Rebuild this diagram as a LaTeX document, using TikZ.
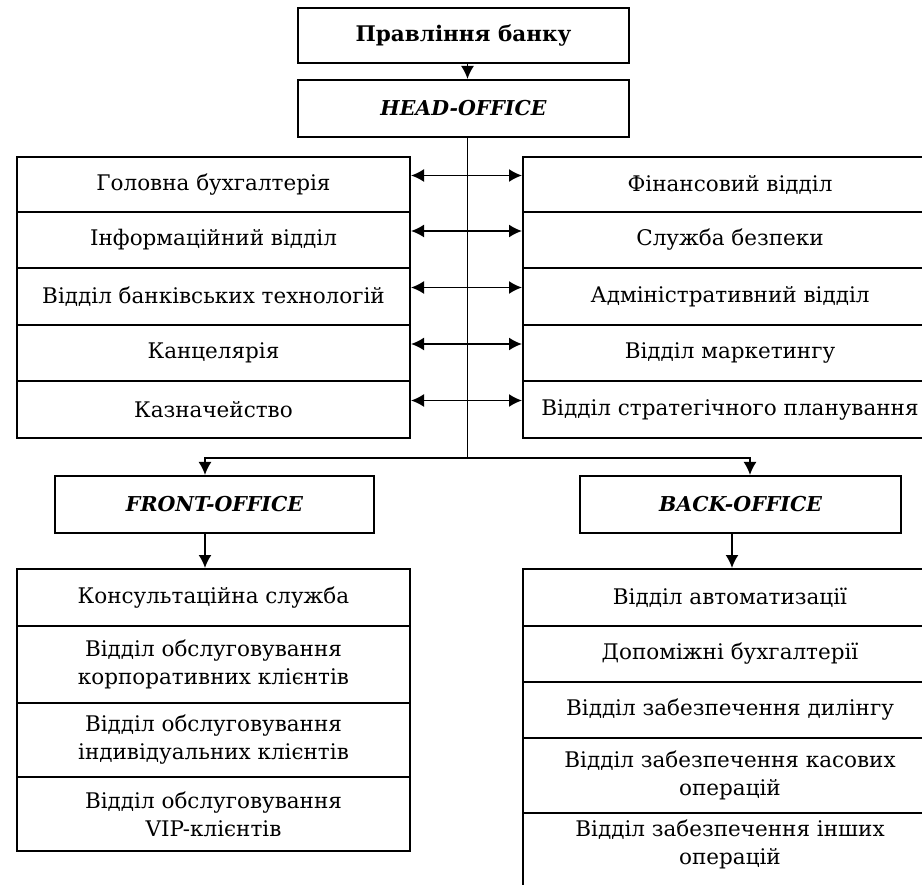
\documentclass[tikz,border=0pt]{standalone}
\usepackage{fontspec}
\setmainfont{DejaVu Serif}
\usetikzlibrary{arrows.meta,calc}
\begin{document}
\begin{tikzpicture}[x=1pt,y=-1pt,
  box/.style={draw, line width=2pt, inner sep=0pt, align=center,
    font=\fontsize{21.5}{28}\selectfont},
  office/.style={box, font=\fontsize{20.5}{28}\selectfont\bfseries\itshape},
  conn/.style={line width=1.8pt},
  arr/.style={line width=1.8pt, -{Latex[length=13pt,width=13pt]}},
  darr/.style={line width=1.8pt, {Latex[length=13pt,width=13pt]}-{Latex[length=13pt,width=13pt]}}]
\clip (0,0) rectangle (922,885);
\fill[white] (0,0) rectangle (922,885);
% top
\node[box, minimum width=331pt, minimum height=55pt, font=\fontsize{21.5}{28}\selectfont\bfseries] (top) at (463.5,35.5) {Правління банку};
\node[office, minimum width=331pt, minimum height=57pt] (head) at (463.5,108.5) {HEAD-OFFICE};
% left stack
\node[box, minimum width=393pt, minimum height=55pt] (L1) at (213.5,184.5) {Головна бухгалтерія};
\node[box, minimum width=393pt, minimum height=56pt] (L2) at (213.5,240) {Інформаційний відділ};
\node[box, minimum width=393pt, minimum height=57pt] (L3) at (213.5,296.5) {Відділ банківських технологій};
\node[box, minimum width=393pt, minimum height=56pt] (L4) at (213.5,353) {Канцелярія};
\node[box, minimum width=393pt, minimum height=57pt] (L5) at (213.5,409.5) {Казначейство};
% right stack
\node[box, minimum width=414pt, minimum height=55pt] (R1) at (730,184.5) {Фінансовий відділ};
\node[box, minimum width=414pt, minimum height=56pt] (R2) at (730,240) {Служба безпеки};
\node[box, minimum width=414pt, minimum height=57pt] (R3) at (730,296.5) {Адміністративний відділ};
\node[box, minimum width=414pt, minimum height=56pt] (R4) at (730,353) {Відділ маркетингу};
\node[box, minimum width=414pt, minimum height=57pt] (R5) at (730,409.5) {Відділ стратегічного планування};
% front / back
\node[office, minimum width=319pt, minimum height=57pt] (front) at (214.5,504.5) {FRONT-OFFICE};
\node[office, minimum width=321pt, minimum height=57pt] (back) at (740.5,504.5) {BACK-OFFICE};
% front stack
\node[box, minimum width=393pt, minimum height=57pt] (F1) at (213.5,597.5) {Консультаційна служба};
\node[box, minimum width=393pt, minimum height=77pt] (F2) at (213.5,664.5) {Відділ обслуговування\\корпоративних клієнтів};
\node[box, minimum width=393pt, minimum height=74pt] (F3) at (213.5,740) {Відділ обслуговування\\індивідуальних клієнтів};
\node[box, minimum width=393pt, minimum height=74pt] (F4) at (213.5,814) {Відділ обслуговування\\VIP-клієнтів};
% back stack
\node[box, minimum width=414pt, minimum height=57pt] (B1) at (730,597.5) {Відділ автоматизації};
\node[box, minimum width=414pt, minimum height=56pt] (B2) at (730,654) {Допоміжні бухгалтерії};
\node[box, minimum width=414pt, minimum height=56pt] (B3) at (730,710) {Відділ забезпечення дилінгу};
\node[box, minimum width=414pt, minimum height=75pt] (B4) at (730,775.5) {Відділ забезпечення касових\\операцій};
\node[box, minimum width=414pt, minimum height=82pt, text depth=23pt] (B5) at (730,854) {Відділ забезпечення інших\\операцій};
% connectors
\draw[arr] ([xshift=4pt]top.south) -- ([xshift=4pt]head.north);
\coordinate (j) at (467.5,458);
\draw[conn] ([xshift=4pt]head.south) -- (j);
\draw[arr] (j) -| ([xshift=-9.5pt]front.north);
\draw[arr] (j) -| ([xshift=9.5pt]back.north);
\foreach \i in {1,...,5}{
  \draw[darr] ([yshift=9pt]L\i.east) -- ([yshift=9pt]R\i.west);
}
\draw[arr] ([xshift=-9.5pt]front.south) -- ([xshift=-8.5pt]F1.north);
\draw[arr] ([xshift=-8.5pt]back.south) -- ([xshift=2pt]B1.north);
\end{tikzpicture}
\end{document}
